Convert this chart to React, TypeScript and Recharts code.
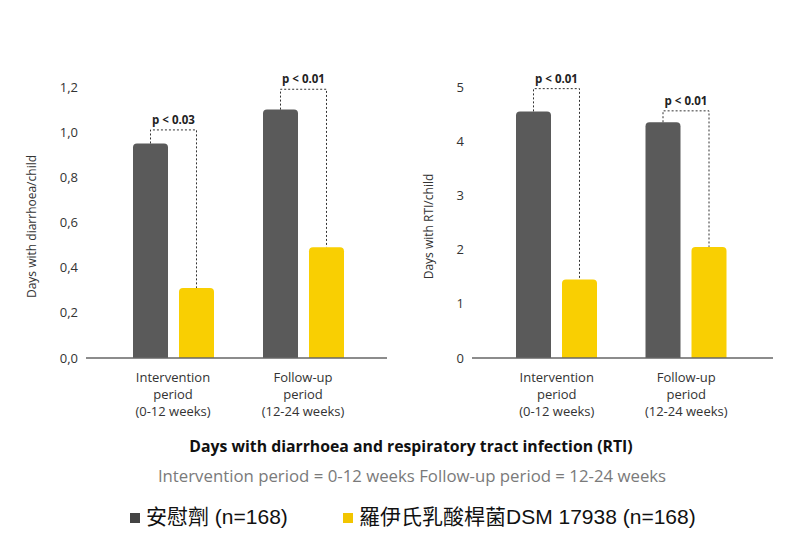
import React from "react";
import { BarChart, Bar, XAxis, YAxis, Rectangle } from "recharts";

// two groups, two arms per chart
const periodKeys = ["intervention", "followup"];
const periodLines = [
  ["Intervention", "period", "(0-12 weeks)"],
  ["Follow-up", "period", "(12-24 weeks)"],
];

const diarrhoeaPlacebo = [0.95, 1.1];
const diarrhoeaReuteri = [0.31, 0.49];
const diarrhoeaP = ["p < 0.03", "p < 0.01"];
const diarrhoeaBracket = [1.01, 1.19];
const diarrhoeaTicks = [0, 0.2, 0.4, 0.6, 0.8, 1.0, 1.2];

const rtiPlacebo = [4.55, 4.35];
const rtiReuteri = [1.45, 2.05];
const rtiP = ["p < 0.01", "p < 0.01"];
const rtiBracket = [4.97, 4.56];
const rtiTicks = [0, 1, 2, 3, 4, 5];

const legendNames = ["安慰劑 (n=168)", "羅伊氏乳酸桿菌DSM 17938 (n=168)"];

const GRAY = "#5a5a5a";
const YELLOW = "#f9cf02";
const FONT = "'Open Sans', Lato, sans-serif";
const BAR_SIZE = 35;
const BAR_GAP = 11;

const buildRows = (placebo: number[], reuteri: number[], p: string[], bracket: number[]) =>
  periodKeys.map((k, i) => ({
    period: k,
    placebo: placebo[i],
    reuteri: reuteri[i],
    p: p[i],
    bracket: bracket[i],
  }));

const diarrhoeaRows = buildRows(diarrhoeaPlacebo, diarrhoeaReuteri, diarrhoeaP, diarrhoeaBracket);
const rtiRows = buildRows(rtiPlacebo, rtiReuteri, rtiP, rtiBracket);

// gray bar + significance bracket to the yellow bar next to it
const PlaceboShape = (props: any) => {
  const { x, y, width, height, payload } = props;
  const base = y + height;
  const pxPerUnit = height / payload.placebo;
  const yellowTop = base - payload.reuteri * pxPerUnit;
  const by = base - payload.bracket * pxPerUnit;
  const x1 = x + width / 2;
  const x2 = x + width + BAR_GAP + width / 2;
  return (
    <g>
      <Rectangle x={x} y={y} width={width} height={height} fill={GRAY} radius={[4, 4, 0, 0]} />
      <path
        d={`M${x1},${y} L${x1},${by} L${x2},${by} L${x2},${yellowTop}`}
        fill="none"
        stroke="#333"
        strokeWidth={1}
        strokeDasharray="2 2"
      />
      <text
        x={(x1 + x2) / 2}
        y={by - 6}
        textAnchor="middle"
        fontSize={11.5}
        fontWeight={700}
        fill="#222"
        fontFamily={FONT}
      >
        {payload.p}
      </text>
    </g>
  );
};

const PeriodTick = (props: any) => {
  const { x, y, payload } = props;
  const lines = periodLines[periodKeys.indexOf(payload.value)] || [];
  return (
    <text x={x} y={y} textAnchor="middle" fontSize={13} fill="#333" fontFamily={FONT}>
      {lines.map((l, i) => (
        <tspan key={i} x={x} dy={i === 0 ? 16 : 17}>
          {l}
        </tspan>
      ))}
    </text>
  );
};

const yTitle = (text: string, dx: number) => (props: any) => {
  const vb = props.viewBox;
  const cx = vb.x + dx;
  const cy = vb.y + vb.height / 2 + 4;
  return (
    <text
      x={cx}
      y={cy}
      transform={`rotate(-90 ${cx} ${cy})`}
      textAnchor="middle"
      dominantBaseline="central"
      fontSize={12}
      fill="#333"
      fontFamily={FONT}
    >
      {text}
    </text>
  );
};

const Panel = ({
  rows,
  ticks,
  fmt,
  yWidth,
  title,
  titleX,
  pad,
}: {
  rows: any[];
  ticks: number[];
  fmt: (v: number) => string;
  yWidth: number;
  title: string;
  titleX: number;
  pad: { left: number; right: number };
}) => (
  <BarChart
    width={yWidth + 315}
    height={430}
    data={rows}
    margin={{ top: 87, right: 14, left: 0, bottom: 12 }}
    barSize={BAR_SIZE}
    barGap={BAR_GAP}
  >
    <XAxis
      dataKey="period"
      tick={<PeriodTick />}
      tickLine={false}
      axisLine={{ stroke: "#666", strokeWidth: 1.5 }}
      padding={pad}
      height={60}
      interval={0}
    />
    <YAxis
      width={yWidth}
      domain={[0, ticks[ticks.length - 1]]}
      ticks={ticks}
      tickFormatter={fmt}
      axisLine={false}
      tickLine={false}
      tick={{ fontSize: 13, fill: "#333", fontFamily: FONT }}
      label={{ content: yTitle(title, titleX) }}
    />
    <Bar dataKey="placebo" fill={GRAY} shape={<PlaceboShape />} isAnimationActive={false} />
    <Bar dataKey="reuteri" fill={YELLOW} radius={[4, 4, 0, 0]} isAnimationActive={false} />
  </BarChart>
);

export default function App() {
  return (
    <div
      style={{
        position: "absolute",
        left: 0,
        top: 0,
        width: 786,
        height: 542,
        background: "#fff",
        fontFamily: FONT,
        overflow: "hidden",
      }}
    >
      <div style={{ position: "absolute", left: 0, top: 0 }}>
        <Panel
          rows={diarrhoeaRows}
          ticks={diarrhoeaTicks}
          fmt={(v) => v.toFixed(1).replace(".", ",")}
          yWidth={86}
          title="Days with diarrhoea/child"
          titleX={31}
          pad={{ left: 22, right: 19 }}
        />
      </div>
      <div style={{ position: "absolute", left: 400, top: 0 }}>
        <Panel
          rows={rtiRows}
          ticks={rtiTicks}
          fmt={(v) => String(v)}
          yWidth={72}
          title="Days with RTI/child"
          titleX={28}
          pad={{ left: 20, right: 22 }}
        />
      </div>
      <div
        style={{
          position: "absolute",
          left: 0,
          width: 822,
          top: 436,
          textAlign: "center",
          fontSize: 15.8,
          fontWeight: 700,
          color: "#111",
          lineHeight: "20px",
        }}
      >
        Days with diarrhoea and respiratory tract infection (RTI)
      </div>
      <div
        style={{
          position: "absolute",
          left: 0,
          width: 824,
          top: 464,
          textAlign: "center",
          fontSize: 16.8,
          color: "#7a7a7a",
          lineHeight: "24px",
        }}
      >
        Intervention period = 0-12 weeks Follow-up period = 12-24 weeks
      </div>
      {legendNames.map((name, i) => (
        <div
          key={name}
          style={{
            position: "absolute",
            left: i === 0 ? 130 : 343,
            top: 503,
            display: "flex",
            alignItems: "center",
            fontFamily: "'Liberation Sans', Arial, 'Noto Sans CJK TC', sans-serif",
            fontSize: 21,
            color: "#111",
            lineHeight: "28px",
          }}
        >
          <span
            style={{
              display: "inline-block",
              width: 10,
              height: 10,
              background: i === 0 ? "#444" : "#f2c500",
              marginRight: 6,
              marginTop: 2,
            }}
          />
          {name}
        </div>
      ))}
    </div>
  );
}
